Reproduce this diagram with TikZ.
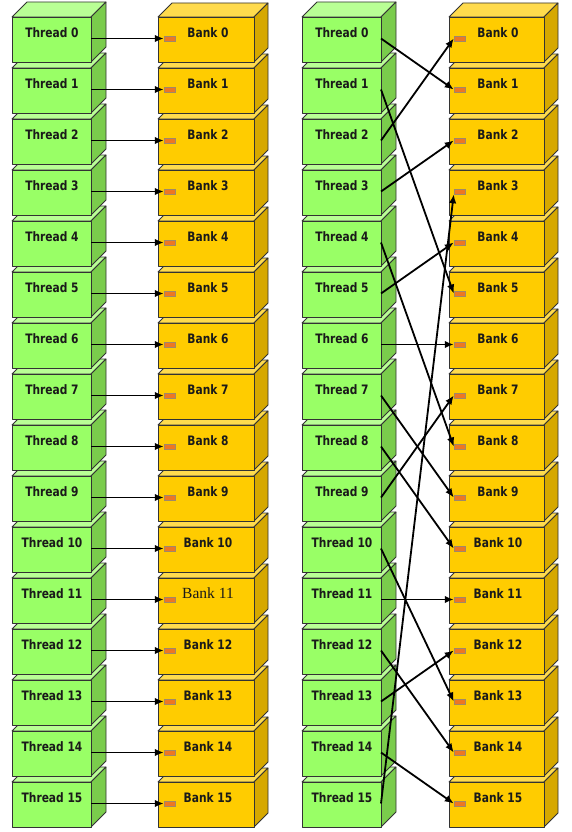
\documentclass[tikz,border=0pt]{standalone}
\usepackage{fontspec}
\usetikzlibrary{arrows.meta}
\newfontfamily\blockfont[FakeStretch=0.82]{DejaVu Sans}
\newfontfamily\serifbank{Liberation Serif}
\definecolor{thf}{HTML}{99FF66}
\definecolor{tht}{HTML}{B9FF95}
\definecolor{ths}{HTML}{7ACC4C}
\definecolor{bkf}{HTML}{FFCC00}
\definecolor{bkt}{HTML}{FFDB4D}
\definecolor{bks}{HTML}{D6A800}
\definecolor{edgec}{HTML}{333333}
\definecolor{txtc}{HTML}{1A1A1A}
\definecolor{portc}{HTML}{EE7722}
\definecolor{portedge}{HTML}{A08868}
\tikzset{
  faceline/.style={draw=edgec, line width=0.8pt, line join=round},
  blocktxt/.style={font=\blockfont\bfseries\fontsize{13}{13}\selectfont, text=txtc, inner sep=0pt},
  seriftxt/.style={font=\serifbank\fontsize{15.5}{15.5}\selectfont, text=txtc, inner sep=0pt},
  port/.style={draw=portedge, fill=portc, minimum width=11pt, minimum height=5pt, inner sep=0pt, line width=0.5pt},
  link/.style={line width=1.8pt, -{Latex[length=9pt,width=7.5pt]}},
}
% x, y (front top-left), width, height, depth, front, top, side
\newcommand\cubeblock[8]{%
  \filldraw[faceline, fill=#7] (#1,#2) -- ++(#5,-#5) -- ++(#3,0) -- ++(-#5,#5) -- cycle;
  \filldraw[faceline, fill=#8] (#1+#3,#2) -- ++(#5,-#5) -- ++(0,#4) -- ++(-#5,#5) -- cycle;
  \filldraw[faceline, fill=#6] (#1,#2) rectangle ++(#3,#4);
}
\begin{document}
\begin{tikzpicture}[x=1pt,y=-1pt]
\useasboundingbox (0,0) rectangle (571,832);
% blocks, drawn bottom to top so upper blocks are in front
\foreach \i in {15,14,...,0} {
  \pgfmathsetmacro\yt{17+51*\i}
  \cubeblock{12}{\yt}{79}{45}{15}{thf}{tht}{ths}
  \cubeblock{158}{\yt}{96}{45}{14}{bkf}{bkt}{bks}
  \cubeblock{302}{\yt}{79}{45}{15}{thf}{tht}{ths}
  \cubeblock{449}{\yt}{95}{45}{14}{bkf}{bkt}{bks}
}
% texts, ports and arrow start points
\foreach \i in {0,...,15} {
  \pgfmathsetmacro\yt{17+51*\i}
  \node[blocktxt] (tL\i) at (52,\yt+16) {Thread \i};
  \node[blocktxt] (tR\i) at (342,\yt+16) {Thread \i};
  \node[blocktxt] (kR\i) at (498,\yt+16) {Bank \i};
  \node[port] (bL\i) at (169.5,\yt+21.5) {};
  \node[port] (bR\i) at (459.5,\yt+21.5) {};
  \coordinate (sL\i) at (91,\yt+21.5);
  \coordinate (sR\i) at (381,\yt+21.5);
}
\foreach \i in {0,...,10,12,13,14,15} {
  \pgfmathsetmacro\yt{17+51*\i}
  \node[blocktxt] (kL\i) at (208,\yt+16) {Bank \i};
}
\node[seriftxt] (kL11) at (208,17+51*11+15) {Bank 11};
% left: linear mapping
\foreach \i in {0,...,15} {
  \draw[link] (sL\i) -- (bL\i.west);
}
% right: permuted mapping
\foreach \a/\b in {0/1,1/5,2/0,3/2,4/8,5/4,6/6,7/9,8/10,9/7,10/13,11/11,12/14,13/12,14/15} {
  \draw[link] (sR\a) -- (bR\b.west);
}
\draw[link] (sR15) -- (bR3.south west);
\end{tikzpicture}
\end{document}
